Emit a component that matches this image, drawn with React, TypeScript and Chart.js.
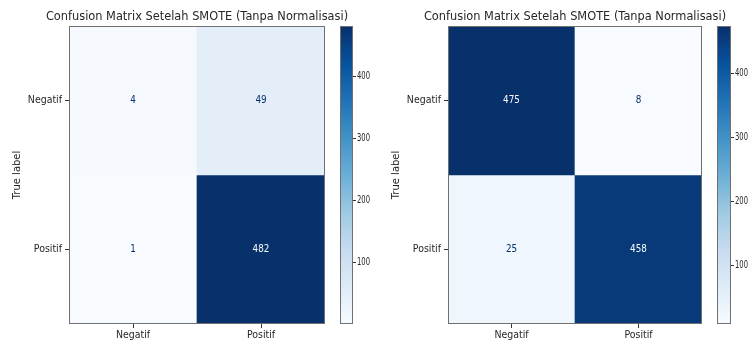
import { useEffect, useRef } from 'react';
import { Chart, registerables } from 'chart.js';

Chart.register(...registerables);

// Class names shared by both axes of each confusion matrix
const classLabels = ['Negatif', 'Positif'];

// First model: rows are true labels, columns are predicted labels
const leftNegatifRow = [4, 49];
const leftPositifRow = [1, 482];

// Second model
const rightNegatifRow = [475, 8];
const rightPositifRow = [25, 458];

// Colorbar tick values
const colorbarTicks = [100, 200, 300, 400];

const panelTitle = 'Confusion Matrix Setelah SMOTE (Tanpa Normalisasi)';
const yAxisTitle = 'True label';
const xAxisTitle = 'Predicted label';

const FIG_H = 344;
const FONT = "'DejaVu Sans', 'Liberation Sans', sans-serif";
const TEXT_COLOR = '#262626';
const SPINE_COLOR = '#707070';

// matplotlib "Blues" colormap anchors
const BLUES = ['#f7fbff', '#deebf7', '#c6dbef', '#9ecae1', '#6baed6', '#4292c6', '#2171b5', '#08519c', '#08306b'];

function hexToRgb(h: string): number[] {
  const n = parseInt(h.slice(1), 16);
  return [(n >> 16) & 255, (n >> 8) & 255, n & 255];
}

function blues(t: number): string {
  const c = Math.max(0, Math.min(1, t)) * (BLUES.length - 1);
  const i = Math.min(BLUES.length - 2, Math.floor(c));
  const f = c - i;
  const a = hexToRgb(BLUES[i]);
  const b = hexToRgb(BLUES[i + 1]);
  const m = a.map((v, k) => Math.round(v + (b[k] - v) * f));
  return `rgb(${m[0]},${m[1]},${m[2]})`;
}

type TextOpts = {
  size: number;
  color?: string;
  align?: CanvasTextAlign;
  baseline?: CanvasTextBaseline;
  sx?: number;
  rotate?: boolean;
};

// Draws text with an optional horizontal squeeze (narrow figure lettering)
function drawText(ctx: CanvasRenderingContext2D, text: string, x: number, y: number, o: TextOpts) {
  ctx.save();
  ctx.translate(x, y);
  if (o.rotate) ctx.rotate(-Math.PI / 2);
  ctx.scale(o.rotate ? 1 : o.sx ?? 1, o.rotate ? o.sx ?? 1 : 1);
  ctx.font = `${o.size}px ${FONT}`;
  ctx.fillStyle = o.color ?? TEXT_COLOR;
  ctx.textAlign = o.align ?? 'center';
  ctx.textBaseline = o.baseline ?? 'alphabetic';
  ctx.fillText(text, 0, 0);
  ctx.restore();
}

type Box = { left: number; top: number; right: number; bottom: number };

function Heatmap({ rows, x, width, plot }: { rows: number[][]; x: number; width: number; plot: Box }) {
  const ref = useRef<HTMLCanvasElement>(null);

  useEffect(() => {
    const flat = rows.flat();
    const vmin = Math.min(...flat);
    const vmax = Math.max(...flat);
    const norm = (v: number) => (v - vmin) / (vmax - vmin);

    const labelsPlugin = {
      id: 'cmLabels',
      afterDraw(chart: any) {
        const ctx: CanvasRenderingContext2D = chart.ctx;
        const a = chart.chartArea;
        const xs = chart.scales.x;
        const ys = chart.scales.y;

        // axes frame
        ctx.save();
        ctx.strokeStyle = SPINE_COLOR;
        ctx.lineWidth = 1;
        ctx.strokeRect(a.left + 0.5, a.top + 0.5, a.right - a.left - 1, a.bottom - a.top - 1);
        ctx.restore();

        // cell counts
        rows.forEach((row, r) => {
          const meta = chart.getDatasetMeta(r);
          row.forEach((v, c) => {
            const el = meta.data[c];
            const cy = (el.y + el.base) / 2;
            drawText(ctx, String(v), el.x, cy, {
              size: 10,
              sx: 0.88,
              baseline: 'middle',
              color: norm(v) > 0.5 ? '#f7fbff' : '#08306b',
            });
          });
        });

        const cx = (a.left + a.right) / 2;
        drawText(ctx, panelTitle, cx, 20, { size: 13, sx: 0.875 });

        classLabels.forEach((lab, i) => {
          drawText(ctx, lab, a.left - 7, ys.getPixelForValue(i + 0.5), {
            size: 10,
            sx: 0.94,
            align: 'right',
            baseline: 'middle',
          });
          drawText(ctx, lab, xs.getPixelForValue(i), 338, { size: 10, sx: 0.94 });
        });

        drawText(ctx, yAxisTitle, a.left - 52, (a.top + a.bottom) / 2, {
          size: 10,
          rotate: true,
          baseline: 'middle',
        });
        // x-axis title sits at the bottom edge of the figure
        drawText(ctx, xAxisTitle, cx, 353, { size: 10, sx: 0.94, color: '#8a8a8a' });
      },
    };

    const tickGrid = {
      drawOnChartArea: false,
      drawTicks: true,
      tickLength: 4,
      color: '#333',
      lineWidth: 1,
    };

    const chart = new Chart(ref.current as HTMLCanvasElement, {
      type: 'bar',
      data: {
        labels: classLabels,
        datasets: rows.map((row, r) => ({
          data: row.map(() => [r, r + 1]),
          backgroundColor: row.map((v) => blues(norm(v))),
          borderWidth: 0,
          barPercentage: 1,
          categoryPercentage: 1,
          grouped: false,
        })),
      },
      options: {
        responsive: false,
        animation: false,
        devicePixelRatio: 1,
        events: [],
        layout: { padding: { left: 0, top: plot.top, right: width - plot.right, bottom: 0 } },
        plugins: { legend: { display: false }, tooltip: { enabled: false }, title: { display: false } },
        scales: {
          x: {
            type: 'category',
            offset: true,
            grid: { ...tickGrid, offset: false },
            border: { display: false },
            ticks: { display: false },
            afterFit: (s: any) => {
              s.height = FIG_H - plot.bottom;
            },
          },
          y: {
            type: 'linear',
            min: 0,
            max: classLabels.length,
            reverse: true,
            grid: tickGrid,
            border: { display: false },
            ticks: { display: false },
            afterBuildTicks: (s: any) => {
              s.ticks = classLabels.map((_, i) => ({ value: i + 0.5 }));
            },
            afterFit: (s: any) => {
              s.width = plot.left;
            },
          },
        },
      } as any,
      plugins: [labelsPlugin],
    });
    return () => chart.destroy();
  }, []);

  return (
    <canvas
      ref={ref}
      width={width}
      height={FIG_H}
      style={{ position: 'absolute', left: x, top: 0, width, height: FIG_H }}
    />
  );
}

function Colorbar({ rows, x, width, bar }: { rows: number[][]; x: number; width: number; bar: Box }) {
  const ref = useRef<HTMLCanvasElement>(null);

  useEffect(() => {
    const flat = rows.flat();
    const vmin = Math.min(...flat);
    const vmax = Math.max(...flat);

    const gradient = (ctx: any) => {
      const a = ctx.chart.chartArea;
      if (!a) return BLUES[0];
      const g = ctx.chart.ctx.createLinearGradient(0, a.bottom, 0, a.top);
      BLUES.forEach((c, i) => g.addColorStop(i / (BLUES.length - 1), c));
      return g;
    };

    const cbPlugin = {
      id: 'cbLabels',
      afterDraw(chart: any) {
        const ctx: CanvasRenderingContext2D = chart.ctx;
        const a = chart.chartArea;
        const ys = chart.scales.y;
        ctx.save();
        ctx.strokeStyle = SPINE_COLOR;
        ctx.lineWidth = 1;
        ctx.strokeRect(a.left + 0.5, a.top + 0.5, a.right - a.left - 1, a.bottom - a.top - 1);
        ctx.restore();
        colorbarTicks.forEach((v) => {
          drawText(ctx, String(v), a.right + 4, ys.getPixelForValue(v), {
            size: 10,
            sx: 0.68,
            align: 'left',
            baseline: 'middle',
          });
        });
      },
    };

    const chart = new Chart(ref.current as HTMLCanvasElement, {
      type: 'bar',
      data: {
        labels: [''],
        datasets: [
          {
            data: [[vmin, vmax]],
            backgroundColor: gradient,
            borderWidth: 0,
            barPercentage: 1,
            categoryPercentage: 1,
          },
        ],
      },
      options: {
        responsive: false,
        animation: false,
        devicePixelRatio: 1,
        events: [],
        layout: { padding: { left: bar.left, top: bar.top, right: 0, bottom: FIG_H - bar.bottom } },
        plugins: { legend: { display: false }, tooltip: { enabled: false } },
        scales: {
          x: { display: false },
          y: {
            position: 'right',
            min: vmin,
            max: vmax,
            grid: { drawOnChartArea: false, drawTicks: true, tickLength: 3, color: '#333', lineWidth: 1 },
            border: { display: false },
            ticks: { display: false },
            afterBuildTicks: (s: any) => {
              s.ticks = colorbarTicks.map((v) => ({ value: v }));
            },
            afterFit: (s: any) => {
              s.width = width - bar.right;
            },
          },
        },
      } as any,
      plugins: [cbPlugin],
    });
    return () => chart.destroy();
  }, []);

  return (
    <canvas
      ref={ref}
      width={width}
      height={FIG_H}
      style={{ position: 'absolute', left: x, top: 0, width, height: FIG_H }}
    />
  );
}

export default function App() {
  const leftRows = [leftNegatifRow, leftPositifRow];
  const rightRows = [rightNegatifRow, rightPositifRow];
  return (
    <div
      style={{
        position: 'absolute',
        left: 0,
        top: 0,
        width: 748,
        height: FIG_H,
        overflow: 'hidden',
        background: '#ffffff',
      }}
    >
      <Heatmap rows={leftRows} x={0} width={370} plot={{ left: 69, top: 26, right: 325, bottom: 324 }} />
      <Heatmap rows={rightRows} x={370} width={378} plot={{ left: 78, top: 26, right: 332, bottom: 324 }} />
      <Colorbar rows={leftRows} x={332} width={48} bar={{ left: 8, top: 26, right: 21, bottom: 324 }} />
      <Colorbar rows={rightRows} x={710} width={38} bar={{ left: 7, top: 26, right: 21, bottom: 324 }} />
    </div>
  );
}
